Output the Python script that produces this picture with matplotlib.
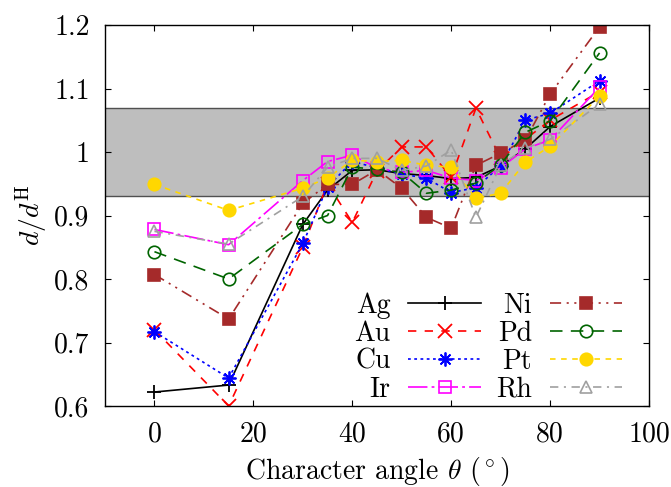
import matplotlib
matplotlib.use("Agg")
import matplotlib.pyplot as plt
from matplotlib.ticker import FixedLocator, FuncFormatter

plt.rcParams['font.family'] = 'serif'
plt.rcParams['font.serif'] = ['cmr10', 'DejaVu Serif']
plt.rcParams['mathtext.fontset'] = 'cm'
plt.rcParams['axes.formatter.use_mathtext'] = True
plt.rcParams['lines.scale_dashes'] = False

FS = 20

angles = [0, 15, 30, 35, 40, 45, 50, 55, 60, 65, 70, 75, 80, 90]

Ag = [0.622, 0.633, 0.886, 0.940, 0.971, 0.972, 0.966, 0.963, 0.958, 0.960, 0.978, 1.005, 1.040, 1.085]
Au = [0.720, 0.600, 0.850, 0.950, 0.889, 0.970, 1.008, 1.008, 0.960, 1.069, 0.990, 1.020, 1.050, 1.095]
Cu = [0.717, 0.644, 0.856, 0.945, 0.985, 0.975, 0.965, 0.959, 0.936, 0.944, 0.978, 1.050, 1.061, 1.112]
Ir = [0.878, 0.854, 0.955, 0.985, 0.995, 0.975, 0.968, 0.971, 0.959, 0.955, 0.975, 1.005, 1.019, 1.102]
Ni = [0.807, 0.737, 0.919, 0.949, 0.949, 0.972, 0.943, 0.897, 0.880, 0.979, 0.998, 1.019, 1.091, 1.197]
Pd = [0.843, 0.800, 0.886, 0.900, 0.976, 0.973, 0.968, 0.935, 0.940, 0.951, 0.980, 1.031, 1.049, 1.156]
Pt = [0.949, 0.908, 0.943, 0.959, 0.987, 0.985, 0.987, 0.979, 0.976, 0.927, 0.935, 0.984, 1.009, 1.088]
Rh = [0.875, 0.855, 0.930, 0.976, 0.990, 0.990, 0.971, 0.978, 1.003, 0.897, 0.979, 1.006, 1.020, 1.075]

band_low, band_high = 0.93, 1.07
x_ticks = [0, 20, 40, 60, 80, 100]
y_ticks = [0.6, 0.7, 0.8, 0.9, 1.0, 1.1, 1.2]

series = [
    ("Ag", Ag, dict(color='black', ls='-', marker='+', mfc='black')),
    ("Au", Au, dict(color='#FF0000', ls=(0, (6, 6)), marker='x', mfc='#FF0000')),
    ("Cu", Cu, dict(color='#0000FF', ls=(0, (2, 2.5)), marker=(8, 2, 0), mfc='#0000FF')),
    ("Ir", Ir, dict(color='#FF00FF', ls=(0, (14, 3, 2, 3)), marker='s', mfc='none')),
    ("Ni", Ni, dict(color='#A52A2A', ls=(0, (8, 4, 1.5, 4, 1.5, 4)), marker='s', mfc='#A52A2A')),
    ("Pd", Pd, dict(color='#006400', ls=(0, (9, 6)), marker='o', mfc='none')),
    ("Pt", Pt, dict(color='#FFD700', ls=(0, (4, 4)), marker='o', mfc='#FFD700')),
    ("Rh", Rh, dict(color='#A0A0A0', ls=(0, (6, 4, 1.5, 4)), marker='^', mfc='none')),
]

fig = plt.figure(figsize=(6.71, 4.87), dpi=100)
ax = fig.add_axes([105/671, 1-406/487, (649-105)/671, (406-25)/487])

ax.axhspan(band_low, band_high, facecolor='#BEBEBE', edgecolor='none', zorder=0)
ax.axhline(band_low, color='#505050', lw=1.0, zorder=0.5)
ax.axhline(band_high, color='#505050', lw=1.0, zorder=0.5)

for name, vals, st in series:
    ms = 9
    mew = 1.2
    if st['marker'] in ('+', 'x') or isinstance(st['marker'], tuple):
        ms = 10
        mew = 1.3
    ax.plot(angles, vals, label=name, color=st['color'], ls=st['ls'], lw=1.2,
            marker=st['marker'], mfc=st['mfc'], mec=st['color'], ms=ms, mew=mew)

ax.set_xlim(-10, 100)
ax.set_ylim(0.6, 1.2)
ax.xaxis.set_major_locator(FixedLocator(x_ticks))
ax.yaxis.set_major_locator(FixedLocator(y_ticks))
ax.yaxis.set_major_formatter(FuncFormatter(lambda v, p: f"{v:g}"))
ax.xaxis.set_major_formatter(FuncFormatter(lambda v, p: f"{v:g}"))
ax.tick_params(direction='in', top=True, right=True, length=4.5, width=0.8,
               labelsize=FS, pad=11)
for s in ax.spines.values():
    s.set_linewidth(1.0)

ax.set_xlabel(r"Character angle $\theta$ ($^\circ$)", fontsize=FS, labelpad=5)
ax.set_ylabel(r"$d/d^{\mathrm{H}}$", fontsize=FS, labelpad=4)

leg = ax.legend(ncol=2, markerfirst=False, frameon=False, fontsize=FS,
                handlelength=2.6, handletextpad=0.65, columnspacing=0.55,
                labelspacing=0.06, numpoints=1, loc='lower right',
                bbox_to_anchor=(0.971, -0.02), borderaxespad=0.0)

fig.savefig("out.png", dpi=100)
